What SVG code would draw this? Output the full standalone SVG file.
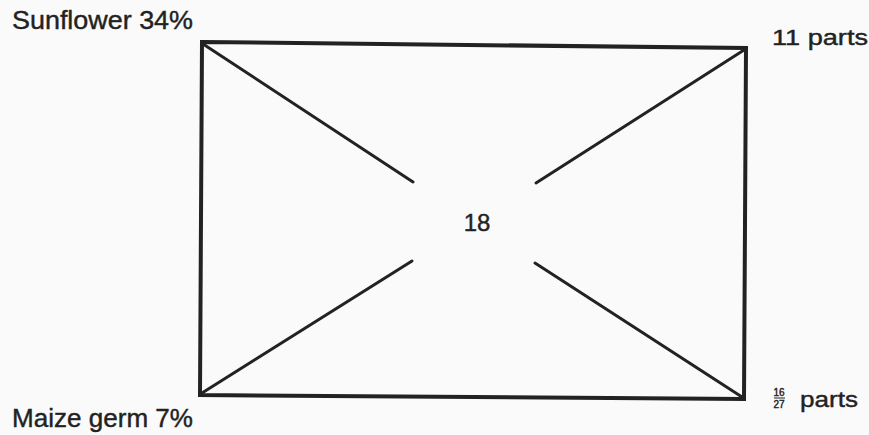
<svg xmlns="http://www.w3.org/2000/svg" width="869" height="435" viewBox="0 0 869 435">
<style>
.lbl{font-family:"Liberation Sans",Arial,sans-serif;fill:#222;stroke:#222;stroke-width:0.4;}
.edge{stroke:#222;fill:none;stroke-linecap:round;}
</style>
<rect x="0" y="0" width="869" height="435" fill="#fafafa"/>
<g id="rectangle">
<polygon class="edge" points="202,42 746,48 744,399 200,395" stroke-width="4"/>
</g>
<g id="connectors">
<line class="edge" x1="203" y1="44" x2="413" y2="182" stroke-width="3"/>
<line class="edge" x1="744" y1="50" x2="536" y2="183" stroke-width="3"/>
<line class="edge" x1="202" y1="393" x2="412" y2="261" stroke-width="3"/>
<line class="edge" x1="742" y1="397" x2="535" y2="263" stroke-width="3"/>
</g>
<g id="node-sunflower">
<text class="lbl" x="12" y="29" font-size="25" textLength="181" lengthAdjust="spacingAndGlyphs">Sunflower 34%</text>
</g>
<g id="node-11parts">
<text class="lbl" x="772" y="45" font-size="22" textLength="96" lengthAdjust="spacingAndGlyphs">11 parts</text>
</g>
<g id="node-maize">
<text class="lbl" x="12" y="427" font-size="25" textLength="181" lengthAdjust="spacingAndGlyphs">Maize germ 7%</text>
</g>
<g id="node-fraction-parts">
<text class="lbl" x="779" y="396" font-size="10" text-anchor="middle">16</text>
<line x1="774" y1="398" x2="785" y2="398" stroke="#222" stroke-width="1"/>
<text class="lbl" x="779" y="408" font-size="10" text-anchor="middle">27</text>
<text class="lbl" x="800" y="407" font-size="22" textLength="58" lengthAdjust="spacingAndGlyphs">parts</text>
</g>
<g id="node-center">
<text class="lbl" x="477" y="231" font-size="24" text-anchor="middle">18</text>
</g>
</svg>
